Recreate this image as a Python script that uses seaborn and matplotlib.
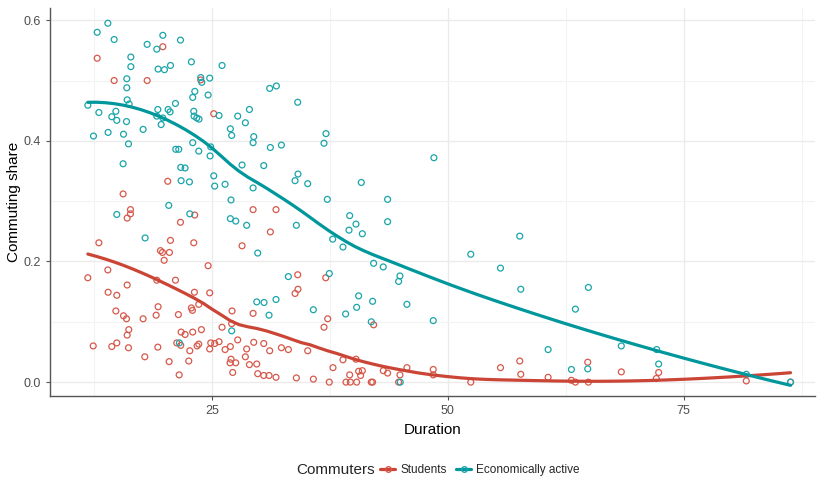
import numpy as np
import pandas as pd
import seaborn as sns
import matplotlib.pyplot as plt
from matplotlib.lines import Line2D
from matplotlib.ticker import MultipleLocator

# values
students_x = [12.82, 19.78, 14.62, 18.12, 23.80, 25.18, 20.30, 15.57, 16.35,
              16.35, 16.00, 23.16, 21.65, 13.00, 20.59, 23.06, 28.18, 19.53, 19.74,
              20.48, 19.92, 24.58, 13.95, 11.83, 16.00, 19.14, 21.12, 13.98, 14.90,
              23.13, 24.75, 19.28, 14.80, 19.07, 21.43, 22.81, 22.92, 23.59, 15.61,
              15.93, 17.69, 27.12, 27.08, 16.17, 16.00, 21.72, 22.14, 22.95, 23.87,
              26.06, 27.72, 12.40, 14.37, 14.90, 16.14, 19.25, 21.26, 21.68, 23.41,
              23.59, 24.86, 25.28, 25.74, 24.75, 26.38, 26.94, 28.67, 22.64, 17.87,
              20.45, 22.53, 27.01, 26.91, 27.51, 28.53, 28.96, 27.19, 21.51,
              29.35, 31.78, 31.18, 34.08, 37.05, 34.11, 33.80, 29.35, 37.26, 36.87,
              42.13, 29.42, 30.48, 31.11, 32.35, 33.09, 35.14, 29.74, 29.84, 30.48,
              31.04, 31.78, 33.94, 35.74, 37.43, 37.82, 38.88, 40.26, 39.59, 40.54,
              40.93, 40.75, 39.20, 39.66, 40.33, 41.88, 42.02, 43.15, 43.61, 44.92,
              44.78, 45.66, 48.45, 48.45,
              52.43, 55.58, 57.62, 57.73, 60.63, 63.10, 63.52, 64.83, 64.90, 68.39,
              72.35, 72.10, 81.64, 86.33]
students_y = [0.537, 0.556, 0.500, 0.500, 0.501, 0.445, 0.333, 0.312, 0.286,
              0.279, 0.272, 0.277, 0.265, 0.231, 0.235, 0.231, 0.226, 0.218, 0.215,
              0.215, 0.202, 0.193, 0.186, 0.173, 0.161, 0.169, 0.169, 0.149, 0.144,
              0.149, 0.148, 0.125, 0.118, 0.111, 0.112, 0.123, 0.119, 0.129, 0.110,
              0.105, 0.105, 0.118, 0.097, 0.087, 0.078, 0.083, 0.079, 0.083, 0.087,
              0.091, 0.070, 0.060, 0.059, 0.065, 0.057, 0.058, 0.065, 0.061, 0.060,
              0.063, 0.065, 0.064, 0.067, 0.055, 0.054, 0.059, 0.055, 0.052, 0.042,
              0.034, 0.035, 0.038, 0.032, 0.032, 0.042, 0.029, 0.016, 0.012,
              0.286, 0.286, 0.249, 0.178, 0.173, 0.154, 0.147, 0.114, 0.105, 0.091,
              0.095, 0.066, 0.064, 0.052, 0.057, 0.054, 0.052, 0.030, 0.014, 0.011,
              0.011, 0.008, 0.007, 0.005, 0.000, 0.024, 0.037, 0.038, 0.012, 0.018,
              0.019, 0.011, 0.000, 0.000, 0.000, 0.000, 0.000, 0.019, 0.015, 0.012,
              0.000, 0.024, 0.021, 0.012,
              0.000, 0.024, 0.035, 0.013, 0.008, 0.003, 0.000, 0.033, 0.000, 0.017,
              0.016, 0.006, 0.002, 0.000]

active_x = [13.95, 12.82, 14.62, 19.78, 18.12, 19.14, 21.65, 16.39, 16.39, 19.28,
            19.95, 20.59, 22.81, 26.06, 15.96, 15.96, 23.80, 24.75, 23.91, 23.17,
            22.95, 24.58, 16.00, 16.21, 11.83, 13.00, 14.80, 14.37, 14.90, 15.93,
            19.25, 19.14, 19.78, 20.34, 20.55, 21.12, 23.06, 23.09, 23.38, 23.62,
            25.74, 27.72, 28.53, 28.96, 19.60, 13.98, 12.43, 15.61, 17.69, 16.14,
            22.95, 23.59, 24.79, 24.86, 26.94, 27.08, 21.15, 21.47, 15.57, 21.68,
            22.14, 25.18, 28.18, 21.72, 22.60, 25.28, 26.38, 27.01, 20.41,
            14.90, 22.64, 17.90, 26.94, 27.51, 28.67, 27.08, 21.54,
            31.11, 31.82, 34.08, 29.42, 29.35, 31.18, 32.35, 37.08, 36.87, 48.52,
            30.48, 29.35, 34.11, 33.80, 35.14, 40.82, 37.22, 43.61,
            33.94, 39.59, 40.26, 39.52, 40.93, 43.61, 37.79, 38.88, 29.84, 42.13,
            43.15, 44.92, 44.78, 33.09, 37.43, 29.74, 30.51, 31.78, 31.04, 35.74,
            40.54, 42.02, 40.33, 39.16, 45.66, 41.88, 48.45, 44.95,
            52.43, 57.62, 55.58, 57.73, 64.90, 63.52, 60.63, 68.39, 63.10, 64.83,
            72.14, 72.35, 81.64, 86.33]
active_y = [0.595, 0.580, 0.568, 0.575, 0.560, 0.552, 0.567, 0.539, 0.523, 0.519,
            0.518, 0.525, 0.531, 0.525, 0.503, 0.488, 0.505, 0.504, 0.497, 0.482,
            0.472, 0.476, 0.468, 0.461, 0.459, 0.447, 0.449, 0.440, 0.434, 0.432,
            0.452, 0.441, 0.438, 0.452, 0.448, 0.462, 0.449, 0.441, 0.438, 0.436,
            0.442, 0.441, 0.430, 0.452, 0.427, 0.414, 0.408, 0.411, 0.419, 0.395,
            0.397, 0.383, 0.375, 0.390, 0.420, 0.409, 0.386, 0.386, 0.362, 0.356,
            0.355, 0.342, 0.360, 0.334, 0.332, 0.325, 0.328, 0.302, 0.293,
            0.278, 0.279, 0.239, 0.271, 0.267, 0.260, 0.085, 0.065,
            0.487, 0.491, 0.464, 0.407, 0.397, 0.389, 0.393, 0.412, 0.396, 0.372,
            0.359, 0.322, 0.345, 0.334, 0.329, 0.331, 0.303, 0.303,
            0.260, 0.276, 0.262, 0.252, 0.246, 0.266, 0.237, 0.224, 0.214, 0.197,
            0.191, 0.176, 0.167, 0.175, 0.180, 0.133, 0.132, 0.137, 0.111, 0.120,
            0.143, 0.134, 0.124, 0.113, 0.129, 0.100, 0.102, 0.000,
            0.212, 0.242, 0.189, 0.154, 0.157, 0.121, 0.054, 0.060, 0.021, 0.022,
            0.054, 0.030, 0.013, 0.000]

groups = ["Students", "Economically active"]
line_colors = ["#CB4536", "#00979C"]
point_colors = ["#D6594B", "#1AA5AA"]


def loess(x, y, span=0.75, n_out=80):
    # local quadratic fit with tricube weights (like R's loess defaults)
    x = np.asarray(x, float)
    y = np.asarray(y, float)
    grid = np.linspace(x.min(), x.max(), n_out)
    q = int(np.floor(len(x) * span))
    fit = []
    for x0 in grid:
        d = np.abs(x - x0)
        h = np.sort(d)[q - 1]
        w = np.clip(1 - (d / h) ** 3, 0, None) ** 3
        X = np.column_stack([np.ones_like(x), x - x0, (x - x0) ** 2])
        W = np.sqrt(w)
        beta = np.linalg.lstsq(X * W[:, None], y * W, rcond=None)[0]
        fit.append(beta[0])
    return grid, np.array(fit)


df = pd.concat([
    pd.DataFrame({"Duration": students_x, "share": students_y, "Commuters": groups[0]}),
    pd.DataFrame({"Duration": active_x, "share": active_y, "Commuters": groups[1]}),
])

sns.set_style("white")
plt.rcParams["font.family"] = ["Liberation Sans", "DejaVu Sans"]

fig = plt.figure(figsize=(8.23, 4.8), dpi=100)
ax = fig.add_axes([0.061, 0.175, 0.929, 0.808])

for g, lc, pc in zip(groups, line_colors, point_colors):
    sub = df[df["Commuters"] == g]
    sns.scatterplot(x=sub["Duration"], y=sub["share"], ax=ax, marker="o", s=18,
                    facecolors="none", edgecolor=pc, linewidth=0.9, legend=False,
                    zorder=3)
    gx, gy = loess(sub["Duration"], sub["share"])
    sns.lineplot(x=gx, y=gy, ax=ax, color=lc, linewidth=2.3, zorder=4)

ax.set_xlim(7.84, 88.9)
ax.set_ylim(-0.023, 0.62)
ax.xaxis.set_major_locator(MultipleLocator(25))
ax.xaxis.set_minor_locator(MultipleLocator(12.5))
ax.yaxis.set_major_locator(MultipleLocator(0.2))
ax.yaxis.set_minor_locator(MultipleLocator(0.1))
ax.set_yticklabels([f"{v:.1f}" for v in ax.get_yticks()])
ax.grid(which="major", color="#EBEBEB", linewidth=1.0, zorder=0)
ax.grid(which="minor", color="#F3F3F3", linewidth=0.8, zorder=0)
ax.set_axisbelow(True)
for s in ["top", "right"]:
    ax.spines[s].set_visible(False)
for s in ["left", "bottom"]:
    ax.spines[s].set_color("#555555")
    ax.spines[s].set_linewidth(1.0)
ax.tick_params(which="major", length=3, width=0.8, color="#555555",
               labelcolor="#4D4D4D", labelsize=9, bottom=True, left=True)
ax.tick_params(which="minor", length=0)
ax.set_xlabel("Duration", fontsize=11, color="black", labelpad=4)
ax.set_ylabel("Commuting share", fontsize=11, color="black", labelpad=2)

handles = [Line2D([], [], color=c, lw=2.3, marker="o", markersize=4,
                  markerfacecolor="none", markeredgecolor=pc)
           for c, pc in zip(line_colors, point_colors)]
fig.text(296 / 823, 1 - 470 / 480, "Commuters", fontsize=11, va="center", ha="left")
fig.legend(handles, groups, loc="center left", bbox_to_anchor=(380 / 823, 1 - 470 / 480),
           ncol=2, frameon=False, fontsize=8.5, handlelength=1.3, handletextpad=0.4,
           columnspacing=0.8, borderaxespad=0, borderpad=0)

fig.savefig("out.png", dpi=100)
